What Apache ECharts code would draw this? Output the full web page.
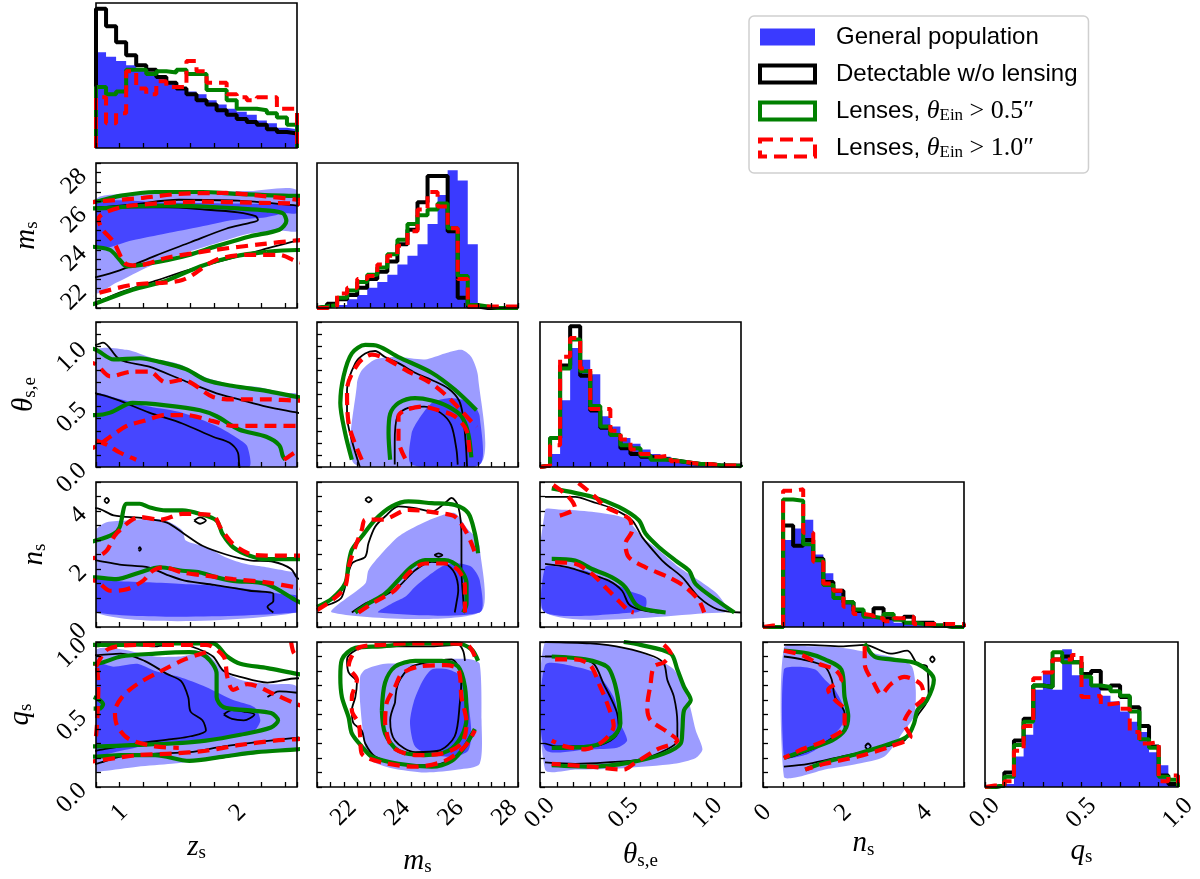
<!DOCTYPE html>
<html>
<head>
<meta charset="utf-8">
<script src="https://cdn.jsdelivr.net/npm/echarts@6/dist/echarts.min.js"></script>
<style>
  html, body { margin: 0; padding: 0; background: #fff; }
  #chart { width: 1200px; height: 879px; }
</style>
</head>
<body>
<div id="chart"></div>
<script>
// tick labels shown on each variable's axis
const zTicks = [1, 2];
const mTicks = [22, 24, 26, 28];
const thTicks = [0, 0.5, 1.0];
const nTicks = [0, 2, 4];
const qTicks = [0, 0.5, 1.0];

// 1D histograms, 20 bins over each axis range (heights as shown, max ~1)
const zHistGeneral = [0.66,0.63,0.60,0.57,0.55,0.52,0.49,0.45,0.42,0.39,0.37,0.33,0.30,0.27,0.25,0.23,0.19,0.17,0.14,0.13];
const zHistDetect  = [0.96,0.84,0.73,0.64,0.57,0.54,0.49,0.45,0.41,0.37,0.33,0.30,0.26,0.23,0.20,0.18,0.16,0.13,0.11,0.10];
const zHistLens05  = [0.42,0.37,0.39,0.54,0.54,0.51,0.53,0.52,0.54,0.51,0.51,0.40,0.40,0.33,0.27,0.27,0.26,0.24,0.21,0.16];
const zHistLens10  = [0.35,0.17,0.24,0.53,0.41,0.37,0.46,0.42,0.42,0.60,0.53,0.45,0.45,0.37,0.35,0.33,0.35,0.35,0.27,0.27];

const mHistGeneral = [0,0,0.02,0.06,0.09,0.14,0.18,0.23,0.30,0.36,0.44,0.58,0.78,0.95,0.88,0.44,0.01,0,0,0];
const mHistDetect  = [0.01,0.03,0.06,0.09,0.14,0.20,0.25,0.32,0.44,0.54,0.73,0.91,0.91,0.53,0.07,0.01,0,0,0,0];
const mHistLens05  = [0.01,0.02,0.07,0.12,0.18,0.23,0.28,0.37,0.47,0.58,0.64,0.68,0.72,0.55,0.22,0.02,0.01,0,0,0];
const mHistLens10  = [0,0.01,0.10,0.14,0.20,0.22,0.30,0.36,0.43,0.53,0.68,0.80,0.70,0.55,0.20,0.01,0.01,0.01,0.01,0.01];

const thHistGeneral = [0,0.09,0.46,0.82,0.74,0.64,0.35,0.28,0.20,0.16,0.12,0.09,0.07,0.05,0.04,0.03,0.02,0.01,0.01,0.01];
const thHistDetect  = [0.01,0.20,0.70,0.97,0.63,0.39,0.27,0.22,0.13,0.09,0.07,0.06,0.05,0.04,0.03,0.02,0.02,0.01,0.01,0.01];
const thHistLens05  = [0.01,0.20,0.68,0.88,0.66,0.42,0.28,0.22,0.15,0.13,0.08,0.05,0.05,0.04,0.03,0.02,0.02,0.01,0.01,0.005];
const thHistLens10  = [0.01,0.15,0.76,0.89,0.68,0.40,0.40,0.25,0.19,0.12,0.09,0.07,0.08,0.04,0.03,0.02,0.02,0.01,0.01,0.01];

const nHistGeneral = [0,0,0.60,0.68,0.74,0.50,0.37,0.25,0.17,0.12,0.09,0.06,0.05,0.03,0.03,0.02,0.01,0.01,0,0];
const nHistDetect  = [0,0,0.70,0.56,0.60,0.47,0.31,0.25,0.17,0.11,0.08,0.13,0.06,0.05,0.07,0.03,0.03,0.01,0,0];
const nHistLens05  = [0,0,0.88,0.87,0.57,0.46,0.29,0.20,0.17,0.12,0.07,0.06,0.09,0.05,0.03,0.02,0.01,0.01,0,0];
const nHistLens10  = [0.01,0.01,0.94,0.95,0.65,0.45,0.30,0.25,0.14,0.09,0.08,0.06,0.04,0.06,0.07,0.02,0.02,0.02,0.02,0.02];

const qHistGeneral = [0,0,0.02,0.21,0.36,0.67,0.80,0.67,0.95,0.77,0.75,0.71,0.63,0.59,0.52,0.45,0.38,0.24,0.15,0.03];
const qHistDetect  = [0,0.01,0.10,0.32,0.47,0.70,0.69,0.88,0.90,0.86,0.78,0.80,0.68,0.70,0.62,0.55,0.42,0.28,0.08,0.02];
const qHistLens05  = [0,0.01,0.07,0.29,0.45,0.70,0.69,0.93,0.86,0.86,0.76,0.70,0.69,0.66,0.63,0.52,0.33,0.27,0.07,0.05];
const qHistLens10  = [0.01,0.01,0.04,0.25,0.42,0.75,0.79,0.88,0.88,0.91,0.62,0.63,0.57,0.58,0.54,0.38,0.30,0.31,0.04,0.08];

// 2D contours, [x, y] in data units
// z_s vs m_s
const zmGenOuter = [[0.8,26.6],[1.0,26.9],[1.3,27.0],[1.7,27.0],[2.1,27.05],[2.5,27.1],[2.5,25.0],[2.38,25.0],[2.1,24.85],[1.82,24.35],[1.53,23.8],[1.25,23.15],[0.97,22.3],[0.8,21.8]];
const zmGenInner = [[0.8,26.4],[1.4,26.45],[2.0,26.4],[2.5,26.3],[2.5,25.9],[2.4,25.9],[2.24,25.7],[1.96,25.55],[1.68,25.2],[1.39,24.85],[1.11,24.5],[0.8,24.1]];
const zmDet1 = [[2.6,26.25],[2.5,26.3],[2.0,26.55],[1.5,26.6],[1.1,26.35],[0.8,26.2],[0.7,26.2],[0.7,21.2],[0.8,21.3],[1.0,21.8],[1.3,22.4],[1.6,23.0],[1.9,23.5],[2.2,24.0],[2.5,24.5],[2.6,24.7]];
const zmDet2 = [[0.7,26.15],[0.8,26.15],[1.1,26.2],[1.4,26.2],[1.7,26.1],[2.0,25.95],[2.15,25.75],[2.17,25.55],[2.1,25.4],[1.9,25.1],[1.6,24.4],[1.3,23.7],[1.0,22.95],[0.8,22.6],[0.7,22.5]];
const zmL05a = [[0.7,26.4],[0.8,26.5],[1.0,26.8],[1.3,27.0],[1.7,27.0],[2.0,26.9],[2.5,26.8],[2.6,26.8],[2.6,24.0],[2.5,24.0],[2.24,23.9],[1.96,23.65],[1.68,23.15],[1.39,22.4],[1.11,21.95],[0.8,21.25],[0.7,21.1]];
const zmL05b = [[0.7,26.15],[0.8,26.15],[1.1,26.25],[1.4,26.3],[1.7,26.25],[2.0,26.15],[2.24,26.05],[2.38,25.9],[2.41,25.5],[2.35,25.05],[2.1,24.7],[1.82,24.2],[1.53,23.65],[1.25,23.3],[1.06,23.15],[1.0,23.5],[0.92,24.0],[0.8,24.15],[0.7,24.2]];
const zmL10a = [[0.7,26.4],[0.8,26.5],[1.2,26.7],[1.5,26.9],[1.9,26.95],[2.2,26.8],[2.5,26.6],[2.6,26.5],[2.6,23.3],[2.5,23.4],[2.35,23.75],[2.1,23.75],[1.82,23.5],[1.53,22.45],[1.11,22.2],[0.8,21.75],[0.7,21.6]];
const zmL10b = [[2.6,26.35],[2.5,26.4],[2.1,26.45],[1.7,26.5],[1.1,26.3],[0.9,26.0],[0.82,25.6],[0.85,25.1],[0.95,24.4],[1.05,23.3],[1.15,23.2],[1.4,23.6],[1.8,24.0],[2.2,24.3],[2.5,24.5],[2.6,24.55]];

// z_s vs theta_s,e
const zthGenOuter = [[0.8,0.96],[1.06,0.97],[1.28,0.9],[1.51,0.85],[1.73,0.74],[1.96,0.68],[2.18,0.66],[2.4,0.61],[2.5,0.6],[2.5,0],[0.8,0]];
const zthGenInner = [[0.8,0.6],[0.97,0.57],[1.25,0.5],[1.53,0.45],[1.82,0.34],[2.01,0.23],[2.08,0.17],[2.09,0],[0.8,0]];
const zthDet1 = [[0.7,1.0],[0.8,1.01],[0.86,1.03],[1.0,0.89],[1.25,0.83],[1.53,0.72],[1.82,0.61],[2.01,0.56],[2.24,0.5],[2.5,0.45],[2.6,0.43]];
const zthDet2 = [[0.7,0.62],[0.8,0.61],[0.97,0.56],[1.25,0.45],[1.53,0.36],[1.79,0.25],[1.93,0.2],[2.0,0.12],[2.01,0.03],[2.02,-0.05]];
const zthL05a = [[0.7,0.99],[0.8,0.97],[0.95,0.89],[1.17,0.9],[1.34,0.87],[1.56,0.81],[1.73,0.72],[1.96,0.67],[2.24,0.63],[2.5,0.58],[2.6,0.57]];
const zthL05b = [[0.7,0.43],[0.8,0.43],[0.92,0.45],[1.11,0.53],[1.39,0.51],[1.68,0.47],[1.82,0.42],[2.01,0.31],[2.24,0.25],[2.35,0.18],[2.38,0.09],[2.4,0.06]];
const zthL10a = [[0.7,0.87],[0.8,0.85],[0.92,0.75],[1.11,0.79],[1.25,0.79],[1.39,0.7],[1.53,0.72],[1.79,0.58],[1.96,0.56],[2.24,0.56],[2.5,0.55],[2.6,0.55]];
const zthL10b = [[0.7,0.14],[0.8,0.17],[0.92,0.25],[1.06,0.34],[1.2,0.38],[1.39,0.43],[1.56,0.43],[1.79,0.38],[1.96,0.34],[2.24,0.34],[2.5,0.34],[2.6,0.34]];
const zthL10c = [[2.39,0.06],[2.45,0.1],[2.5,0.13]];
const zthL10d = [[0.8,0.22],[0.9,0.18],[1.0,0.12],[1.14,0.06]];

// z_s vs n_s
const znGenOuter = [[0.8,3.33],[0.89,3.61],[1.06,3.67],[1.25,3.73],[1.39,3.67],[1.53,3.33],[1.56,2.98],[1.73,2.75],[1.9,2.4],[2.07,2.17],[2.24,2.06],[2.4,1.94],[2.5,1.82],[2.5,0.5],[0.8,0.5]];
const znGenInner = [[0.8,1.65],[0.97,1.59],[1.25,1.54],[1.53,1.48],[1.82,1.42],[2.1,1.3],[2.38,1.13],[2.5,1.07],[2.5,0.5],[0.8,0.5]];
const znDet1 = [[0.7,4.1],[0.8,4.1],[0.95,3.85],[1.2,3.75],[1.4,3.6],[1.55,3.2],[1.7,2.8],[1.9,2.5],[2.1,2.3],[2.3,2.25],[2.45,2.0],[2.5,1.7],[2.55,1.6]];
const znDet2 = [[0.7,2.35],[0.8,2.3],[1.0,2.15],[1.25,2.05],[1.4,1.8],[1.55,1.6],[1.8,1.45],[2.1,1.25],[2.3,1.15],[2.3,0.9],[2.25,0.7],[2.3,0.5]];
const znDet3 = [[0.87,4.36],[0.89,4.45],[0.91,4.36],[0.89,4.27],[0.87,4.36]];
const znDet4 = [[1.63,3.67],[1.68,3.78],[1.73,3.67],[1.68,3.56],[1.63,3.67]];
const znDet5 = [[1.16,2.69],[1.17,2.75],[1.18,2.69],[1.17,2.63],[1.16,2.69]];
const znL05a = [[0.7,2.9],[0.8,2.98],[0.95,3.21],[1.0,3.44],[1.06,4.25],[1.17,4.25],[1.25,4.13],[1.39,4.02],[1.53,4.02],[1.68,3.9],[1.82,3.67],[1.87,3.21],[1.96,2.75],[2.1,2.46],[2.24,2.34],[2.5,2.34],[2.6,2.34]];
const znL05b = [[0.7,1.72],[0.8,1.71],[0.97,1.65],[1.17,1.88],[1.34,2.06],[1.53,1.94],[1.68,1.88],[1.82,1.71],[1.96,1.59],[2.24,1.48],[2.5,0.9],[2.55,0.8]];
const znL10a = [[0.7,2.35],[0.8,2.4],[0.89,2.63],[0.97,3.21],[1.17,3.79],[1.35,3.7],[1.53,3.9],[1.79,3.85],[1.85,3.44],[1.96,2.86],[2.1,2.52],[2.24,2.46],[2.5,2.46],[2.6,2.46]];
const znL10b = [[0.7,1.62],[0.8,1.59],[0.92,1.25],[1.06,1.3],[1.2,1.6],[1.28,1.94],[1.37,2.06],[1.53,1.88],[1.73,1.77],[1.96,1.65],[2.24,1.54],[2.5,1.36],[2.6,1.3]];

// z_s vs q_s
const zqGenOuter = [[0.8,0.94],[1.01,0.95],[1.3,0.9],[1.5,0.9],[1.73,0.92],[1.88,0.8],[2.02,0.74],[2.25,0.71],[2.5,0.69],[2.5,0.28],[2.25,0.24],[1.88,0.2],[1.44,0.16],[1.15,0.14],[0.86,0.11],[0.8,0.11]];
const zqGenInner = [[0.8,0.85],[0.95,0.83],[1.15,0.85],[1.3,0.8],[1.5,0.76],[1.73,0.69],[1.96,0.6],[2.14,0.55],[2.19,0.46],[2.14,0.39],[1.88,0.34],[1.59,0.32],[1.3,0.3],[1.01,0.25],[0.8,0.23]];
const zqDet1 = [[0.7,0.97],[0.8,0.97],[1.01,0.98],[1.3,0.97],[1.5,0.99],[1.67,0.95],[1.79,0.9],[1.88,0.8],[2.02,0.76],[2.25,0.72],[2.5,0.75],[2.6,0.75]];
const zqDet1b = [[0.7,0.15],[0.8,0.16],[1.01,0.21],[1.3,0.23],[1.59,0.24],[1.88,0.28],[2.16,0.31],[2.5,0.34],[2.6,0.35]];
const zqDet2 = [[0.7,0.91],[0.8,0.91],[1.01,0.92],[1.21,0.87],[1.4,0.78],[1.52,0.73],[1.58,0.62],[1.6,0.52],[1.7,0.46],[1.73,0.39],[1.6,0.35],[1.44,0.33],[1.15,0.3],[0.86,0.26],[0.8,0.25],[0.7,0.24]];
const zqDet3 = [[1.88,0.5],[1.95,0.53],[2.05,0.52],[2.14,0.5],[2.05,0.46],[1.95,0.47],[1.88,0.5]];
const zqDet4 = [[2.25,0.62],[2.35,0.66],[2.5,0.65]];
const zqL05a = [[0.7,0.98],[0.8,0.98],[1.01,0.98],[1.3,0.99],[1.59,0.99],[1.79,0.99],[1.91,0.9],[2.02,0.85],[2.25,0.82],[2.5,0.78],[2.6,0.77]];
const zqL05a2 = [[0.7,0.21],[0.8,0.21],[1.01,0.22],[1.3,0.22],[1.59,0.18],[1.88,0.21],[2.16,0.24],[2.5,0.26],[2.6,0.27]];
const zqL05b = [[0.7,0.85],[0.8,0.85],[1.01,0.9],[1.3,0.92],[1.59,0.93],[1.73,0.9],[1.82,0.78],[1.82,0.62],[1.88,0.55],[2.08,0.53],[2.28,0.51],[2.34,0.46],[2.28,0.41],[2.02,0.36],[1.73,0.32],[1.44,0.3],[1.15,0.29],[0.8,0.28],[0.7,0.28]];
const zqL05c = [[0.78,0.62],[0.83,0.6],[0.86,0.57],[0.83,0.54],[0.78,0.54]];
const zqL10a = [[0.8,0.83],[0.9,0.95],[1.15,0.98],[1.44,0.98],[1.73,0.98],[1.88,0.9],[1.91,0.76],[1.96,0.67],[2.08,0.71],[2.31,0.64],[2.5,0.57],[2.6,0.55]];
const zqL10a2 = [[0.7,0.17],[0.8,0.18],[1.15,0.22],[1.44,0.23],[1.73,0.25],[2.02,0.29],[2.31,0.32],[2.5,0.33],[2.6,0.34]];
const zqL10a3 = [[2.45,1.0],[2.47,0.93],[2.5,0.9]];
const zqL10b = [[1.73,0.93],[1.55,0.88],[1.35,0.8],[1.15,0.71],[1.02,0.62],[0.96,0.52],[0.98,0.42],[1.08,0.33],[1.3,0.28],[1.5,0.27]];
const zqL10c = [[0.81,0.82],[0.82,0.7],[0.81,0.45],[0.8,0.35]];

// m_s vs theta_s,e
const mthGenOuter = [[22.43,0.02],[22.49,0.69],[22.67,0.8],[23.17,0.89],[24.04,0.91],[25.03,0.89],[25.77,0.94],[26.39,0.97],[26.76,0.91],[27.01,0.75],[27.07,0.02]];
const mthGenInner = [[24.53,0.02],[24.53,0.28],[24.78,0.39],[25.28,0.53],[25.9,0.57],[26.52,0.55],[26.89,0.5],[27.07,0.42],[27.07,0.02]];
const mthDet1 = [[22.6,0.0],[22.3,0.22],[22.12,0.42],[22.12,0.64],[22.43,0.86],[22.8,0.94],[23.17,0.96],[23.54,0.91],[24.04,0.86],[24.66,0.78],[25.28,0.72],[25.9,0.65],[26.3,0.55],[26.45,0.42],[26.55,0.2],[26.6,0.0]];
const mthDet2 = [[23.9,0.02],[23.9,0.2],[24.0,0.42],[24.4,0.49],[25.0,0.5],[25.6,0.45],[26.0,0.35],[26.2,0.15],[26.25,0.02]];
const mthL05a = [[22.3,0.06],[22.05,0.28],[21.87,0.53],[21.99,0.75],[22.3,0.94],[22.8,1.01],[23.29,1.0],[24.04,0.91],[25.28,0.78],[26.14,0.64],[26.95,0.47]];
const mthL05b = [[23.73,0.06],[23.67,0.28],[23.73,0.44],[24.04,0.53],[24.66,0.57],[25.28,0.55],[25.9,0.5],[26.39,0.42],[26.64,0.28],[26.76,0.08]];
const mthL10a = [[22.67,0.06],[22.18,0.36],[22.12,0.64],[22.55,0.86],[23.05,0.93],[23.54,0.9],[24.41,0.79],[25.28,0.69],[26.02,0.55],[26.95,0.33]];
const mthL10b = [[24.29,0.07],[24.04,0.22],[24.04,0.42],[24.29,0.47],[24.91,0.5],[25.53,0.47],[26.14,0.42],[26.58,0.3],[26.7,0.08]];

// m_s vs n_s
const mnGenOuter = [[21.56,0.5],[22.8,1.5],[22.92,1.96],[23.42,2.54],[24.04,3.12],[24.66,3.46],[25.53,3.81],[26.14,3.93],[26.64,3.35],[26.89,3.12],[27.07,2.77],[27.07,0.5]];
const mnGenInner = [[23.29,0.5],[23.79,0.81],[24.29,1.04],[24.66,1.39],[25.28,1.85],[25.77,2.14],[26.27,2.19],[26.76,2.08],[27.07,1.62],[27.07,0.5]];
const mnDet1 = [[21.06,0.69],[21.56,0.81],[21.93,1.04],[22.3,2.19],[22.8,2.42],[22.92,2.89],[23.17,3.46],[23.54,3.81],[24.04,4.16],[24.66,4.1],[25.28,3.98],[25.77,4.27],[26.02,4.45],[26.27,4.16],[26.39,3.12],[26.39,1.96],[26.45,1.04],[26.5,0.5]];
const mnDet2 = [[22.3,0.5],[22.8,0.81],[23.42,1.04],[24.04,1.39],[24.66,1.96],[25.28,2.25],[25.77,2.19],[26.14,1.85],[26.27,1.27],[26.2,0.81],[26.14,0.5]];
const mnDet3 = [[22.8,4.39],[22.92,4.48],[23.04,4.39],[22.92,4.3],[22.8,4.39]];
const mnDet4 = [[25.38,2.48],[25.53,2.54],[25.68,2.48],[25.53,2.42],[25.38,2.48]];
const mnL05a = [[21.0,0.69],[21.56,0.98],[22.05,1.5],[22.18,2.19],[22.3,2.66],[22.67,3.12],[23.17,3.7],[23.79,4.16],[24.41,4.33],[25.28,4.27],[26.14,4.21],[26.64,3.93],[26.89,3.23],[27.01,2.54]];
const mnL05b = [[22.43,0.5],[22.92,0.81],[23.54,1.15],[24.04,1.62],[24.53,2.08],[25.03,2.31],[25.77,2.31],[26.27,2.08],[26.58,1.5],[26.58,0.81],[26.45,0.5]];
const mnL10a = [[21.0,0.58],[21.56,0.92],[22.05,1.39],[22.18,2.08],[22.43,2.77],[22.67,3.35],[22.8,3.7],[23.42,3.7],[24.41,4.04],[25.53,3.93],[26.14,3.81],[26.52,3.35],[26.76,2.89],[26.95,2.42]];
const mnL10b = [[22.55,0.5],[23.17,0.87],[23.91,1.27],[24.41,1.85],[25.03,2.19],[25.77,2.19],[26.27,1.96],[26.52,1.39],[26.52,0.5]];

// m_s vs q_s
const mqGenOuter = [[22.8,0.81],[23.54,0.85],[24.66,0.85],[25.65,0.88],[26.76,0.88],[27.07,0.85],[27.14,0.46],[27.07,0.16],[26.27,0.12],[25.03,0.1],[23.79,0.13],[23.05,0.18],[22.8,0.27],[22.61,0.58],[22.61,0.76]];
const mqGenInner = [[25.28,0.81],[25.9,0.81],[26.39,0.76],[26.64,0.58],[26.76,0.37],[26.64,0.25],[26.14,0.21],[25.28,0.22],[24.66,0.28],[24.47,0.44],[24.6,0.58],[24.91,0.72]];
const mqDet1 = [[26.52,0.87],[26.45,0.94],[26.27,0.98],[25.28,0.97],[24.04,0.97],[22.67,0.96],[22.12,0.88],[22.18,0.79],[22.49,0.72],[22.43,0.62],[22.3,0.53],[22.36,0.44],[22.67,0.39],[22.8,0.3],[23.17,0.21],[24.04,0.16],[25.28,0.15],[25.9,0.18],[26.39,0.25],[26.76,0.37]];
const mqDet2 = [[23.91,0.58],[24.04,0.72],[24.53,0.83],[25.53,0.87],[26.02,0.88],[26.39,0.76],[26.33,0.58],[26.14,0.35],[25.53,0.25],[24.66,0.24],[23.91,0.32],[23.73,0.46],[23.91,0.58]];
const mqL05a = [[27.01,0.87],[26.76,0.95],[26.2,0.99],[24.66,0.99],[23.42,0.97],[22.43,0.96],[21.93,0.88],[21.87,0.76],[21.93,0.62],[22.18,0.48],[22.3,0.37],[22.67,0.28],[23.05,0.21],[24.04,0.16],[25.28,0.14],[26.02,0.18],[26.52,0.28],[26.89,0.4]];
const mqL05b = [[23.42,0.53],[23.54,0.72],[23.91,0.83],[24.66,0.87],[25.65,0.87],[26.27,0.83],[26.52,0.69],[26.58,0.48],[26.39,0.35],[25.9,0.25],[25.03,0.22],[24.04,0.25],[23.54,0.37],[23.42,0.53]];
const mqL10a = [[26.89,0.9],[26.6,0.98],[25.65,0.99],[24.41,0.99],[23.42,0.98],[22.55,0.96],[22.18,0.83],[22.49,0.74],[22.3,0.62],[22.3,0.53],[22.55,0.44],[22.61,0.35],[22.67,0.23],[23.42,0.17],[24.66,0.14],[25.77,0.18],[26.52,0.28],[26.89,0.39]];
const mqL10b = [[23.54,0.44],[23.6,0.58],[23.91,0.69],[24.16,0.78],[24.78,0.83],[25.77,0.84],[26.27,0.81],[26.39,0.62],[26.58,0.44],[26.39,0.3],[25.65,0.23],[24.66,0.22],[23.79,0.28],[23.54,0.44]];

// theta_s,e vs n_s
const thnGenOuter = [[0.03,0.5],[0.03,4.03],[0.11,4.05],[0.31,3.97],[0.51,3.74],[0.61,3.1],[0.71,2.64],[0.83,2.06],[0.95,1.6],[1.06,1.13],[1.12,0.61],[1.1,0.5]];
const thnGenInner = [[0.03,0.5],[0.03,2.06],[0.11,2.08],[0.27,1.94],[0.41,1.6],[0.53,1.25],[0.63,1.02],[0.63,0.67],[0.57,0.5]];
const thnDet1 = [[0.03,4.49],[0.21,4.49],[0.31,4.32],[0.43,4.09],[0.55,3.68],[0.61,3.1],[0.71,2.41],[0.75,2.18],[0.85,1.71],[0.95,1.02],[1.06,0.61],[1.2,0.5]];
const thnDet2 = [[0.03,2.18],[0.17,2.06],[0.29,1.83],[0.41,1.6],[0.49,1.25],[0.53,0.79],[0.59,0.61],[0.71,0.5]];
const thnL05a = [[0.07,4.78],[0.31,4.49],[0.47,4.14],[0.59,3.68],[0.63,3.22],[0.71,2.75],[0.81,2.29],[0.89,1.94],[0.93,1.48],[1.06,0.9],[1.16,0.5]];
const thnL05b = [[0.07,2.35],[0.21,2.29],[0.31,2.0],[0.43,1.71],[0.51,1.37],[0.57,0.79],[0.63,0.61],[0.75,0.5]];
const thnL10a = [[0.23,4.96],[0.33,4.49],[0.39,4.14],[0.53,3.74],[0.55,3.33],[0.51,2.87],[0.53,2.41],[0.63,2.06],[0.77,1.71],[0.87,1.37],[0.95,0.9],[0.98,0.5]];
const thnL10b = [[0.09,2.23],[0.21,2.18],[0.31,1.83],[0.39,1.37],[0.47,0.9],[0.53,0.56],[0.56,0.5]];
const thnL10c = [[0.08,4.9],[0.17,4.49],[0.21,4.1],[0.15,3.9],[0.09,3.8]];

// theta_s,e vs q_s
const thqGenOuter = [[0.03,1.0],[0.3,0.99],[0.5,0.96],[0.66,0.9],[0.8,0.81],[0.88,0.62],[0.93,0.39],[0.97,0.26],[0.93,0.2],[0.8,0.16],[0.5,0.13],[0.21,0.12],[0.03,0.12]];
const thqGenInner = [[0.03,0.84],[0.21,0.83],[0.34,0.78],[0.44,0.62],[0.48,0.44],[0.52,0.32],[0.46,0.27],[0.3,0.26],[0.03,0.26]];
const thqDet1 = [[0.03,1.0],[0.3,0.99],[0.5,0.96],[0.68,0.9],[0.74,0.85],[0.76,0.74],[0.8,0.62],[0.82,0.44],[0.82,0.32],[0.76,0.26],[0.6,0.19],[0.4,0.17],[0.21,0.16],[0.03,0.17]];
const thqDet2 = [[0.03,0.9],[0.07,0.9],[0.21,0.89],[0.32,0.85],[0.38,0.71],[0.42,0.62],[0.46,0.51],[0.47,0.39],[0.42,0.32],[0.3,0.28],[0.11,0.28],[0.03,0.3]];
const thqL05a = [[0.5,1.0],[0.6,0.98],[0.78,0.92],[0.82,0.81],[0.86,0.69],[0.9,0.6],[0.86,0.53],[0.85,0.39],[0.84,0.3],[0.74,0.23],[0.54,0.17],[0.3,0.14],[0.07,0.15]];
const thqL05b = [[0.07,0.9],[0.27,0.88],[0.4,0.83],[0.44,0.74],[0.47,0.58],[0.48,0.44],[0.44,0.35],[0.3,0.28],[0.07,0.27]];
const thqL10a = [[0.74,0.98],[0.78,0.92],[0.74,0.86],[0.68,0.83],[0.66,0.71],[0.64,0.55],[0.66,0.46],[0.76,0.38],[0.82,0.32],[0.7,0.26],[0.56,0.16],[0.5,0.12],[0.3,0.14],[0.07,0.16]];
const thqL10b = [[0.09,0.88],[0.21,0.88],[0.3,0.84],[0.36,0.69],[0.4,0.58],[0.44,0.42],[0.38,0.32],[0.27,0.26],[0.15,0.28],[0.07,0.32]];

// n_s vs q_s
const nqGenOuter = [[0.52,0.07],[0.52,0.96],[1.13,0.97],[1.95,0.96],[2.77,0.92],[3.43,0.88],[3.71,0.83],[3.8,0.67],[3.76,0.49],[3.51,0.39],[3.02,0.21],[2.36,0.16],[1.54,0.12],[0.89,0.07]];
const nqGenInner = [[0.52,0.2],[0.52,0.81],[0.89,0.83],[1.3,0.81],[1.54,0.74],[1.79,0.67],[2.03,0.53],[1.95,0.42],[1.54,0.3],[1.13,0.23],[0.72,0.2]];
const nqDet1 = [[0.52,0.98],[1.13,0.98],[1.95,0.97],[2.53,0.98],[3.18,0.92],[3.59,0.94],[3.84,0.85],[4.08,0.83],[4.12,0.62],[3.84,0.49],[3.67,0.39],[3.51,0.32],[2.77,0.26],[1.95,0.21],[1.13,0.16],[0.52,0.14]];
const nqDet2 = [[0.52,0.9],[0.97,0.88],[1.54,0.83],[1.71,0.74],[1.79,0.62],[2.03,0.51],[2.03,0.39],[1.79,0.35],[1.38,0.28],[0.72,0.21],[0.52,0.2]];
const nqDet3 = [[4.15,0.88],[4.21,0.9],[4.27,0.88],[4.21,0.86],[4.15,0.88]];
const nqDet4 = [[2.54,0.28],[2.61,0.3],[2.68,0.28],[2.61,0.26],[2.54,0.28]];
const nqL05a = [[2.53,0.99],[2.77,0.9],[3.18,0.88],[3.84,0.85],[4.25,0.74],[4.08,0.6],[3.84,0.53],[3.76,0.44],[3.59,0.35],[3.18,0.3],[2.36,0.23],[1.54,0.17],[1.05,0.12]];
const nqL05b = [[0.52,0.94],[1.13,0.92],[1.54,0.88],[1.95,0.81],[2.03,0.62],[2.12,0.49],[2.03,0.39],[1.71,0.32],[1.13,0.26],[0.52,0.2]];
const nqL10a = [[2.53,0.97],[2.53,0.85],[2.77,0.71],[2.94,0.64],[3.18,0.71],[3.51,0.76],[3.92,0.71],[4.0,0.62],[3.67,0.53],[3.51,0.44],[3.67,0.35],[3.18,0.28],[2.36,0.21],[1.54,0.16],[1.05,0.12]];
const nqL10b = [[0.52,0.94],[0.97,0.91],[1.38,0.85],[1.79,0.81],[1.95,0.74],[1.62,0.67],[1.79,0.6],[2.03,0.53],[2.03,0.42],[1.54,0.32],[0.97,0.26],[0.52,0.2]];

// ---- layout ----
const COL_X = [96, 317, 540, 763, 985];
const ROW_Y = [3, 163, 322, 482, 642];
const PW = 201, PH = 145;

const BLUE_HIST = '#3a3aff', BLUE_DARK = '#4646ff', BLUE_LIGHT = '#9c9cff';
const GREEN = '#008000', RED = '#ff0000';
const SERIF = 'Liberation Serif';

const vars = [
  { min: 0.8, max: 2.5, step: 0.2, ticks: zTicks, dec: 0, title: '{i|z}{s|s}', xGap: 44, yGap: 54 },
  { min: 21, max: 28.5, step: 0.5, ticks: mTicks, dec: 0, title: '{i|m}{s|s}', xGap: 58, yGap: 54 },
  { min: 0, max: 1.2, step: 0.1, ticks: thTicks, dec: 1, title: '{i|θ}{s|s,e}', xGap: 52, yGap: 56 },
  { min: 0, max: 5, step: 0.5, ticks: nTicks, dec: 0, title: '{i|n}{s|s}', xGap: 40, yGap: 46 },
  { min: 0, max: 1, step: 0.1, ticks: qTicks, dec: 1, title: '{i|q}{s|s}', xGap: 48, yGap: 60 }
];
const hists = [
  [zHistGeneral, zHistDetect, zHistLens05, zHistLens10],
  [mHistGeneral, mHistDetect, mHistLens05, mHistLens10],
  [thHistGeneral, thHistDetect, thHistLens05, thHistLens10],
  [nHistGeneral, nHistDetect, nHistLens05, nHistLens10],
  [qHistGeneral, qHistDetect, qHistLens05, qHistLens10]
];
const panels = [
  { r: 1, c: 0, gen: [zmGenOuter, zmGenInner], det: [zmDet1, zmDet2], l05: [zmL05a, zmL05b], l10: [zmL10a, zmL10b] },
  { r: 2, c: 0, gen: [zthGenOuter, zthGenInner], det: [zthDet1, zthDet2], l05: [zthL05a, zthL05b], l10: [zthL10a, zthL10b, zthL10c, zthL10d] },
  { r: 3, c: 0, gen: [znGenOuter, znGenInner], det: [znDet1, znDet2, znDet3, znDet4, znDet5], l05: [znL05a, znL05b], l10: [znL10a, znL10b] },
  { r: 4, c: 0, gen: [zqGenOuter, zqGenInner], det: [zqDet1, zqDet1b, zqDet2, zqDet3, zqDet4], l05: [zqL05a, zqL05a2, zqL05b, zqL05c], l10: [zqL10a, zqL10a2, zqL10a3, zqL10b, zqL10c] },
  { r: 2, c: 1, gen: [mthGenOuter, mthGenInner], det: [mthDet1, mthDet2], l05: [mthL05a, mthL05b], l10: [mthL10a, mthL10b] },
  { r: 3, c: 1, gen: [mnGenOuter, mnGenInner], det: [mnDet1, mnDet2, mnDet3, mnDet4], l05: [mnL05a, mnL05b], l10: [mnL10a, mnL10b] },
  { r: 4, c: 1, gen: [mqGenOuter, mqGenInner], det: [mqDet1, mqDet2], l05: [mqL05a, mqL05b], l10: [mqL10a, mqL10b] },
  { r: 3, c: 2, gen: [thnGenOuter, thnGenInner], det: [thnDet1, thnDet2], l05: [thnL05a, thnL05b], l10: [thnL10a, thnL10b, thnL10c] },
  { r: 4, c: 2, gen: [thqGenOuter, thqGenInner], det: [thqDet1, thqDet2], l05: [thqL05a, thqL05b], l10: [thqL10a, thqL10b] },
  { r: 4, c: 3, gen: [nqGenOuter, nqGenInner], det: [nqDet1, nqDet2, nqDet3, nqDet4], l05: [nqL05a, nqL05b], l10: [nqL10a, nqL10b] }
];

const nameRich = {
  i: { fontFamily: SERIF, fontStyle: 'italic', fontSize: 29, lineHeight: 32, color: '#000' },
  s: { fontFamily: SERIF, fontSize: 19, lineHeight: 16, verticalAlign: 'bottom', color: '#000' }
};

function tickLabel(v) {
  return function (val) {
    const hit = v.ticks.some(t => Math.abs(t - val) < 1e-6);
    return hit ? val.toFixed(v.dec) : '';
  };
}

function valueAxis(v, g, withLabels, isX) {
  const ax = {
    type: 'value', gridIndex: g, min: v.min, max: v.max, interval: v.step, z: 10,
    axisLine: { show: false },
    splitLine: { show: false },
    axisTick: { show: true, inside: true, length: 5, lineStyle: { color: '#000', width: 1.3 } },
    axisLabel: {
      show: withLabels, interval: 0, rotate: 45, formatter: tickLabel(v),
      showMinLabel: true, showMaxLabel: true, hideOverlap: false,
      fontFamily: SERIF, fontSize: 25, color: '#000'
    }
  };
  if (isX) {
    ax.axisLabel.align = 'center';
    ax.axisLabel.verticalAlign = 'middle';
    ax.axisLabel.margin = 26;
  } else {
    ax.axisLabel.margin = 13;
  }
  if (withLabels) {
    ax.name = v.title;
    ax.nameLocation = 'middle';
    ax.nameGap = isX ? v.xGap : v.yGap;
    if (!isX) ax.nameRotate = 90;
    ax.nameTextStyle = { rich: nameRich };
  }
  return ax;
}

function stepPoints(lo, hi, h) {
  const w = (hi - lo) / h.length;
  const pts = [[lo, 0]];
  h.forEach((val, i) => { pts.push([lo + i * w, val]); pts.push([lo + (i + 1) * w, val]); });
  pts.push([hi, 0]);
  return pts;
}

function fillSeries(g, pts, color, z) {
  return {
    type: 'custom', name: 'gen', xAxisIndex: g, yAxisIndex: g, clip: true, silent: true, z: z,
    data: [pts[0]],
    renderItem: function (params, api) {
      return {
        type: 'polygon',
        shape: { points: pts.map(p => api.coord(p)), smooth: 0.25 },
        style: { fill: color }
      };
    }
  };
}

function lineSeries(g, pts, name, lineStyle, z, smooth) {
  return {
    type: 'line', name: name, xAxisIndex: g, yAxisIndex: g, data: pts,
    symbol: 'none', showSymbol: false, smooth: smooth, silent: true, z: z,
    lineStyle: lineStyle, clip: true
  };
}

const detStyle = { color: '#000', width: 1.8 };
const l05Style = { color: GREEN, width: 4.2 };
const l10Style = { color: RED, width: 4.2, type: [12, 7] };

const grids = [], xAxes = [], yAxes = [], series = [];
const gridOf = {};
for (let r = 0; r < 5; r++) {
  for (let c = 0; c <= r; c++) {
    const g = grids.length;
    gridOf[r + '_' + c] = g;
    grids.push({
      left: COL_X[c], top: ROW_Y[r], width: PW, height: PH, show: true,
      borderColor: '#000', borderWidth: 1.6, backgroundColor: 'transparent', z: 10
    });
    xAxes.push(valueAxis(vars[c], g, r === 4, true));
    if (r === c) {
      yAxes.push({ type: 'value', gridIndex: g, min: 0, max: 1, show: false });
    } else {
      yAxes.push(valueAxis(vars[r], g, c === 0, false));
    }
  }
}

// diagonal histograms
for (let k = 0; k < 5; k++) {
  const g = gridOf[k + '_' + k];
  const v = vars[k];
  const [hGen, hDet, h05, h10] = hists[k];
  series.push({
    type: 'line', name: 'gen', xAxisIndex: g, yAxisIndex: g, data: stepPoints(v.min, v.max, hGen),
    symbol: 'none', silent: true, z: 1, lineStyle: { width: 0, color: BLUE_HIST },
    areaStyle: { color: BLUE_HIST, opacity: 1 }, itemStyle: { color: BLUE_HIST }
  });
  series.push(lineSeries(g, stepPoints(v.min, v.max, hDet), 'det', { color: '#000', width: 4 }, 3, false));
  series.push(lineSeries(g, stepPoints(v.min, v.max, h05), 'l05', { color: GREEN, width: 4 }, 4, false));
  series.push(lineSeries(g, stepPoints(v.min, v.max, h10), 'l10', { color: RED, width: 4, type: [12, 7] }, 5, false));
}

// lower-triangle contour panels
panels.forEach(p => {
  const g = gridOf[p.r + '_' + p.c];
  series.push(fillSeries(g, p.gen[0], BLUE_LIGHT, 1));
  series.push(fillSeries(g, p.gen[1], BLUE_DARK, 2));
  p.det.forEach(pts => series.push(lineSeries(g, pts, 'det', detStyle, 3, 0.3)));
  p.l05.forEach(pts => series.push(lineSeries(g, pts, 'l05', l05Style, 4, 0.3)));
  p.l10.forEach(pts => series.push(lineSeries(g, pts, 'l10', l10Style, 5, 0.3)));
});

const legendText = {
  gen: 'General population',
  det: 'Detectable w/o lensing',
  l05: 'Lenses, {th|θ}{sub|Ein}{m| > 0.5″}',
  l10: 'Lenses, {th|θ}{sub|Ein}{m| > 1.0″}'
};

const option = {
  animation: false,
  backgroundColor: '#fff',
  grid: grids,
  xAxis: xAxes,
  yAxis: yAxes,
  legend: {
    left: 749, top: 16, orient: 'vertical', selectedMode: false,
    itemWidth: 55, itemHeight: 17, itemGap: 11,
    padding: [8, 11, 12, 9],
    borderColor: '#cfcfcf', borderWidth: 1.5, borderRadius: 5, backgroundColor: '#fff',
    formatter: name => legendText[name],
    textStyle: {
      fontFamily: 'Liberation Sans', fontSize: 24, color: '#000', lineHeight: 26, padding: [0, 0, 0, 16],
      rich: {
        th: { fontFamily: SERIF, fontStyle: 'italic', fontSize: 26, lineHeight: 26, color: '#000' },
        sub: { fontFamily: SERIF, fontSize: 17, lineHeight: 14, verticalAlign: 'bottom', color: '#000' },
        m: { fontFamily: SERIF, fontSize: 26, lineHeight: 26, color: '#000' }
      }
    },
    data: [
      { name: 'gen', icon: 'rect', itemStyle: { color: BLUE_HIST, borderWidth: 0 } },
      { name: 'det', icon: 'rect', itemStyle: { color: '#fff', borderColor: '#000', borderWidth: 4 } },
      { name: 'l05', icon: 'rect', itemStyle: { color: '#fff', borderColor: GREEN, borderWidth: 4 } },
      { name: 'l10', icon: 'rect', itemStyle: { color: '#fff', borderColor: RED, borderWidth: 4, borderType: [13, 7] } }
    ]
  },
  series: series
};

const chart = echarts.init(document.getElementById('chart'), null, { renderer: 'canvas' });
chart.setOption(option);
</script>
</body>
</html>
